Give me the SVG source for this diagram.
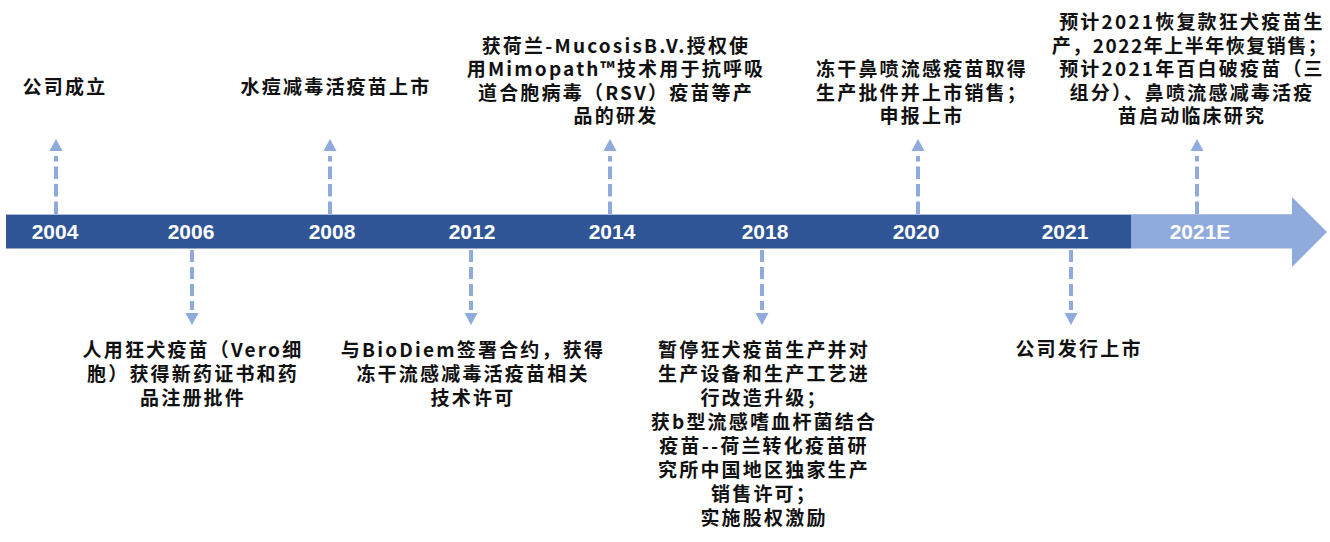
<svg xmlns="http://www.w3.org/2000/svg" xmlns:xlink="http://www.w3.org/1999/xlink" width="1330" height="542" viewBox="0 0 1330 542">
<style>
.t{font-family:"Noto Sans CJK SC","Noto Sans",sans-serif;font-size:19px;font-weight:bold;fill:#111;letter-spacing:2.2px;text-anchor:middle}
.tn{letter-spacing:1.5px}
.y{font-family:"Liberation Sans",Arial,sans-serif;font-size:21px;font-weight:bold;fill:#fff;text-anchor:middle}
.dl{stroke:#8FAADC;stroke-width:4;fill:none}
.ah{fill:#8FAADC}
</style>
<defs>
<g id="up">
<path class="dl" d="M0 214V156" stroke-dasharray="12.5 5"/>
<polygon class="ah" points="-6.5,151 6.5,151 0,139"/>
</g>
<g id="down">
<path class="dl" d="M0 250V310" stroke-dasharray="12 5"/>
<polygon class="ah" points="-6.5,313 6.5,313 0,325"/>
</g>
</defs>
<rect width="1330" height="542" fill="#fff"/>
<g id="timeline">
<polygon points="1131,214.5 1292,214.5 1292,197 1327,232 1292,267 1292,248.5 1131,248.5" fill="#8FAADC"/>
<rect x="6" y="214.5" width="1125" height="34" fill="#2F5597"/>
<line x1="6" y1="214.5" x2="1292" y2="214.5" stroke="#A9BDE3" stroke-width="1"/>
<text class="y" x="55" y="239">2004</text>
<text class="y" x="191" y="239">2006</text>
<text class="y" x="332" y="239">2008</text>
<text class="y" x="472" y="239">2012</text>
<text class="y" x="612" y="239">2014</text>
<text class="y" x="765" y="239">2018</text>
<text class="y" x="916" y="239">2020</text>
<text class="y" x="1065" y="239">2021</text>
<text class="y" x="1200" y="239">2021E</text>
</g>
<g id="connectors">
<use xlink:href="#up" x="56"/>
<use xlink:href="#up" x="330"/>
<use xlink:href="#up" x="610"/>
<use xlink:href="#up" x="918"/>
<use xlink:href="#up" x="1197"/>
<use xlink:href="#down" x="192"/>
<use xlink:href="#down" x="471"/>
<use xlink:href="#down" x="762"/>
<use xlink:href="#down" x="1071"/>
</g>
<g id="n2004"><text class="t" x="65" y="93.5">公司成立</text></g>
<g id="n2008"><text class="t" x="336" y="93.5">水痘减毒活疫苗上市</text></g>
<g id="n2014">
<text class="t" x="616" y="52.5">获荷兰-MucosisB.V.授权使</text>
<text class="t" x="616" y="76">用Mimopath™技术用于抗呼吸</text>
<text class="t" x="616" y="99.5">道合胞病毒（RSV）疫苗等产</text>
<text class="t" x="616" y="123">品的研发</text>
</g>
<g id="n2020">
<text class="t" x="922" y="76">冻干鼻喷流感疫苗取得</text>
<text class="t" x="922" y="99.5">生产批件并上市销售；</text>
<text class="t" x="922" y="123">申报上市</text>
</g>
<g id="n2021E">
<text class="t" x="1192" y="29">预计2021恢复款狂犬疫苗生</text>
<text class="t tn" x="1190" y="52.5">产，2022年上半年恢复销售；</text>
<text class="t" x="1192" y="76">预计2021年百白破疫苗（三</text>
<text class="t" x="1192" y="99.5">组分）、鼻喷流感减毒活疫</text>
<text class="t" x="1192" y="123">苗启动临床研究</text>
</g>
<g id="n2006">
<text class="t" x="193" y="357">人用狂犬疫苗（Vero细</text>
<text class="t" x="193" y="381">胞）获得新药证书和药</text>
<text class="t" x="193" y="405">品注册批件</text>
</g>
<g id="n2012">
<text class="t" x="473" y="357">与BioDiem签署合约，获得</text>
<text class="t" x="473" y="381">冻干流感减毒活疫苗相关</text>
<text class="t" x="473" y="405">技术许可</text>
</g>
<g id="n2018">
<text class="t" x="764" y="357">暂停狂犬疫苗生产并对</text>
<text class="t" x="764" y="381">生产设备和生产工艺进</text>
<text class="t" x="764" y="405">行改造升级；</text>
<text class="t" x="764" y="429">获b型流感嗜血杆菌结合</text>
<text class="t" x="764" y="453">疫苗--荷兰转化疫苗研</text>
<text class="t" x="764" y="477">究所中国地区独家生产</text>
<text class="t" x="764" y="501">销售许可；</text>
<text class="t" x="764" y="525">实施股权激励</text>
</g>
<g id="n2021"><text class="t" x="1079" y="356">公司发行上市</text></g>
</svg>
